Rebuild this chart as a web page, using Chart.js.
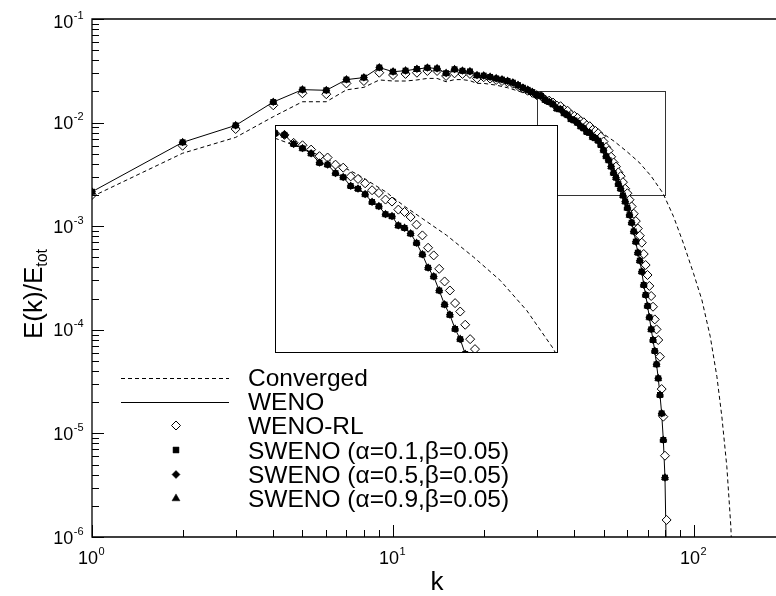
<!DOCTYPE html>
<html>
<head>
<meta charset="utf-8">
<script src="https://cdn.jsdelivr.net/npm/chart.js@4.4.0/dist/chart.umd.min.js"></script>
<style>
html, body { margin: 0; padding: 0; background: #fff; }
#wrap { position: relative; width: 776px; height: 596px; }
#mainChart { display: block; }
#inset { position: absolute; left: 275px; top: 125px; width: 283px; height: 228px; background: #fff; }
#insetChart { display: block; }
</style>
</head>
<body>
<div id="wrap">
	<canvas id="mainChart" width="776" height="596"></canvas>
	<div id="inset"><canvas id="insetChart" width="283" height="228"></canvas></div>
</div>
<script>
// wavenumbers of the simulated spectra
const kValues = [1, 2, 3, 4, 5, 6, 7, 8, 9, 10, 11, 12, 13, 14, 15, 16, 17, 18, 19, 20,
	21, 22, 23, 24, 25, 26, 27, 28, 29, 30, 31, 32, 33, 34, 35, 36, 37, 38, 39, 40,
	41, 42, 43, 44, 45, 46, 47, 48, 49, 50, 51, 52, 53, 54, 55, 56, 57, 58, 59, 60,
	61, 62, 63, 64, 65, 66, 67, 68, 69, 70, 71, 72, 73, 74, 75, 76, 77, 78, 79, 80, 81];

// WENO (the SWENO runs lie on top of it)
const wenoE = [2.15e-3, 6.45e-3, 9.4e-3, 1.58e-2, 2.08e-2, 2.05e-2, 2.6e-2, 2.72e-2, 3.4e-2, 3.1e-2,
	3.17e-2, 3.29e-2, 3.38e-2, 3.33e-2, 3.0e-2, 3.27e-2, 3.16e-2, 3.12e-2, 2.86e-2, 2.84e-2,
	2.76e-2, 2.67e-2, 2.6e-2, 2.52e-2, 2.43e-2, 2.3e-2, 2.17e-2, 2.07e-2, 1.97e-2, 1.84e-2,
	1.81e-2, 1.65e-2, 1.58e-2, 1.50e-2, 1.365e-2, 1.34e-2, 1.23e-2, 1.18e-2, 1.08e-2, 1.05e-2,
	9.94e-3, 9.19e-3, 8.80e-3, 8.12e-3, 7.96e-3, 7.24e-3, 7.07e-3, 6.68e-3, 6.07e-3, 5.41e-3,
	4.73e-3, 4.33e-3, 3.76e-3, 3.26e-3, 2.94e-3, 2.55e-3, 2.30e-3, 1.98e-3, 1.73e-3, 1.50e-3,
	1.28e-3, 1.08e-3, 8.9e-4, 7.09e-4, 5.55e-4, 4.65e-4, 3.64e-4, 2.71e-4, 2.17e-4, 1.70e-4,
	1.32e-4, 1.01e-4, 7.97e-5, 6.24e-5, 4.64e-5, 3.40e-5, 2.35e-5, 1.56e-5, 8.64e-6, 3.74e-6, 5e-7];

const wenoRlE = [2.0e-3, 5.98e-3, 8.67e-3, 1.47e-2, 1.92e-2, 1.88e-2, 2.39e-2, 2.52e-2, 3.03e-2, 2.88e-2,
	2.95e-2, 3.03e-2, 3.15e-2, 3.15e-2, 2.82e-2, 2.99e-2, 2.95e-2, 2.95e-2, 2.67e-2, 2.74e-2,
	2.66e-2, 2.58e-2, 2.52e-2, 2.45e-2, 2.37e-2, 2.25e-2, 2.13e-2, 2.03e-2, 1.94e-2, 1.84e-2,
	1.81e-2, 1.67e-2, 1.63e-2, 1.56e-2, 1.46e-2, 1.44e-2, 1.34e-2, 1.30e-2, 1.19e-2, 1.16e-2,
	1.11e-2, 1.035e-2, 1.007e-2, 9.42e-3, 9.23e-3, 8.51e-3, 8.31e-3, 7.90e-3, 7.31e-3, 6.56e-3,
	5.79e-3, 5.36e-3, 4.68e-3, 4.12e-3, 3.76e-3, 3.31e-3, 3.04e-3, 2.66e-3, 2.30e-3, 2.08e-3,
	1.80e-3, 1.55e-3, 1.32e-3, 1.12e-3, 9.5e-4, 8.1e-4, 6.93e-4, 5.39e-4, 4.22e-4, 3.38e-4,
	2.65e-4, 2.12e-4, 1.67e-4, 1.26e-4, 1.01e-4, 7.97e-5, 5.50e-5, 2.68e-5, 1.45e-5, 6.09e-6, 1.46e-6];

// the three SWENO runs cannot be told apart from WENO in the picture
const swenoA01E = wenoE;
const swenoA05E = wenoE;
const swenoA09E = wenoE;

// converged reference spectrum
const convK = [1, 2, 3, 4, 5, 6, 7, 8, 9, 10, 11, 12, 13, 14, 15, 16, 17, 18, 19, 20,
	22, 24, 26, 28, 30, 33, 36, 40, 44, 47, 49.6, 54.4, 59.7, 65.5, 71.8, 78.8, 85.4,
	92.1, 99.5, 106.1, 113.1, 119, 123.6, 128.4, 132.4, 134];
const convE = [1.93e-3, 5.06e-3, 7.2e-3, 1.14e-2, 1.59e-2, 1.59e-2, 2.07e-2, 2.19e-2, 2.58e-2, 2.52e-2,
	2.52e-2, 2.58e-2, 2.67e-2, 2.67e-2, 2.48e-2, 2.6e-2, 2.6e-2, 2.54e-2, 2.39e-2, 2.39e-2,
	2.3e-2, 2.17e-2, 2.02e-2, 1.88e-2, 1.75e-2, 1.58e-2, 1.42e-2, 1.21e-2, 1.02e-2, 8.8e-3,
	7.9e-3, 6.56e-3, 5.27e-3, 4.16e-3, 3.07e-3, 2.08e-3, 1.24e-3, 6.84e-4, 3.51e-4, 1.94e-4,
	8.6e-5, 3.53e-5, 1.45e-5, 4.77e-6, 1.26e-6, 5e-7];

const xTickDecades = [1, 10, 100];
const xTickLabels = ['0', '1', '2'];
const yTickDecades = [1e-6, 1e-5, 1e-4, 1e-3, 1e-2, 1e-1];
const yTickLabels = ['-6', '-5', '-4', '-3', '-2', '-1'];

// zoom window shown in the inset
const zoomK = [30, 80];
const zoomE = [2e-3, 2e-2];

const FONT = '"Liberation Sans", Arial, Helvetica, sans-serif';

function pts(xs, ys) {
	return xs.map((x, i) => ({ x: x, y: ys[i] }));
}

const legendItems = [
	{ label: 'Converged', line: true, dash: [4, 3] },
	{ label: 'WENO', line: true, dash: [] },
	{ label: 'WENO-RL', style: 'rectRot', radius: 4.5, fill: '#fff' },
	{ label: 'SWENO (\u03b1=0.1,\u03b2=0.05)', style: 'rect', radius: 4.2, fill: '#000' },
	{ label: 'SWENO (\u03b1=0.5,\u03b2=0.05)', style: 'rectRot', radius: 4, fill: '#000' },
	{ label: 'SWENO (\u03b1=0.9,\u03b2=0.05)', style: 'triangle', radius: 4.6, fill: '#000' }
];

function makeDatasets() {
	return [
		{ label: 'SWENO a=0.1', data: pts(kValues, swenoA01E), showLine: false, pointStyle: 'rect', pointRadius: 4.2,
			backgroundColor: '#000', borderColor: '#000', pointBorderWidth: 0, order: 1 },
		{ label: 'SWENO a=0.5', data: pts(kValues, swenoA05E), showLine: false, pointStyle: 'rectRot', pointRadius: 4,
			backgroundColor: '#000', borderColor: '#000', pointBorderWidth: 0, order: 2 },
		{ label: 'SWENO a=0.9', data: pts(kValues, swenoA09E), showLine: false, pointStyle: 'triangle', pointRadius: 4.6,
			backgroundColor: '#000', borderColor: '#000', pointBorderWidth: 0, order: 3 },
		{ label: 'WENO-RL', data: pts(kValues, wenoRlE), showLine: false, pointStyle: 'rectRot', pointRadius: 4.5,
			backgroundColor: '#fff', borderColor: '#000', pointBorderWidth: 1, order: 4 },
		{ label: 'WENO', data: pts(kValues, wenoE), showLine: true, pointRadius: 0,
			borderColor: '#000', borderWidth: 1, order: 5 },
		{ label: 'Converged', data: pts(convK, convE), showLine: true, pointRadius: 0,
			borderColor: '#000', borderWidth: 1, borderDash: [4, 3], order: 6 }
	];
}

function drawMarker(ctx, style, radius, x, y) {
	if (Chart.helpers && Chart.helpers.drawPoint) {
		Chart.helpers.drawPoint(ctx, { pointStyle: style, radius: radius, rotation: 0, borderWidth: 1 }, x, y);
		return;
	}
	ctx.beginPath();
	if (style === 'rect') {
		const s = radius * Math.SQRT1_2;
		ctx.rect(x - s, y - s, 2 * s, 2 * s);
	} else if (style === 'triangle') {
		ctx.moveTo(x, y - radius);
		ctx.lineTo(x + radius * 0.866, y + radius / 2);
		ctx.lineTo(x - radius * 0.866, y + radius / 2);
		ctx.closePath();
	} else {
		ctx.moveTo(x, y - radius); ctx.lineTo(x + radius, y);
		ctx.lineTo(x, y + radius); ctx.lineTo(x - radius, y);
		ctx.closePath();
	}
	ctx.fill();
	ctx.stroke();
}

// "10" with a raised exponent; y is the middle of the "10"
function drawPower(ctx, exp, x, y, align) {
	ctx.font = '18px ' + FONT;
	const bw = ctx.measureText('10').width;
	ctx.font = '11px ' + FONT;
	const ew = ctx.measureText(exp).width;
	const left = align === 'right' ? x - bw - ew : x - (bw + ew) / 2;
	ctx.textAlign = 'left';
	ctx.textBaseline = 'alphabetic';
	ctx.font = '18px ' + FONT;
	ctx.fillText('10', left, y + 6.5);
	ctx.font = '11px ' + FONT;
	ctx.fillText(exp, left + bw + 0.5, y - 2.5);
}

const mainDecor = {
	id: 'mainDecor',
	beforeDatasetsDraw(chart) {
		const ctx = chart.ctx;
		const xs = chart.scales.x, ys = chart.scales.y;
		ctx.save();
		ctx.strokeStyle = '#333';
		ctx.lineWidth = 1;
		const x0 = Math.round(xs.getPixelForValue(zoomK[0])) + 0.5;
		const x1 = Math.round(xs.getPixelForValue(zoomK[1])) + 0.5;
		const y0 = Math.round(ys.getPixelForValue(zoomE[1])) + 0.5;
		const y1 = Math.round(ys.getPixelForValue(zoomE[0])) + 0.5;
		ctx.strokeRect(x0, y0, x1 - x0, y1 - y0);
		ctx.restore();
	},
	afterDraw(chart) {
		const ctx = chart.ctx;
		const area = chart.chartArea;
		const xs = chart.scales.x, ys = chart.scales.y;
		ctx.save();
		ctx.strokeStyle = '#000';
		ctx.fillStyle = '#000';
		ctx.lineWidth = 1.3;
		// frame: left, bottom, top
		ctx.beginPath();
		ctx.moveTo(area.right, area.top); ctx.lineTo(area.left, area.top);
		ctx.lineTo(area.left, area.bottom); ctx.lineTo(area.right, area.bottom);
		ctx.stroke();

		// inward ticks
		ctx.lineWidth = 1;
		ctx.beginPath();
		for (let d = 1; d < 1000; d *= 10) {
			for (let m = 1; m < 10; m++) {
				const v = d * m;
				if (v < xs.min || v > xs.max) continue;
				const px = Math.round(xs.getPixelForValue(v)) + 0.5;
				const len = m === 1 ? 12 : 7;
				ctx.moveTo(px, area.bottom); ctx.lineTo(px, area.bottom - len);
			}
		}
		for (let d = 1e-6; d < 0.5; d *= 10) {
			for (let m = 1; m < 10; m++) {
				const v = d * m;
				if (v < ys.min * 0.999 || v > ys.max * 1.001) continue;
				const py = Math.round(ys.getPixelForValue(v)) + 0.5;
				const len = m === 1 ? 12 : 7;
				ctx.moveTo(area.left, py); ctx.lineTo(area.left + len, py);
			}
		}
		ctx.stroke();

		// tick labels
		xTickDecades.forEach((v, i) => {
			drawPower(ctx, xTickLabels[i], xs.getPixelForValue(v) - 1, 557, 'center');
		});
		yTickDecades.forEach((v, i) => {
			drawPower(ctx, yTickLabels[i], area.left - 9, ys.getPixelForValue(v) + (i === yTickDecades.length - 1 ? 2 : 0), 'right');
		});

		// axis titles
		ctx.font = '26px ' + FONT;
		ctx.textAlign = 'center';
		ctx.textBaseline = 'alphabetic';
		ctx.fillText('k', 437, 590);

		ctx.save();
		ctx.translate(42, 294);
		ctx.rotate(-Math.PI / 2);
		ctx.font = '26px ' + FONT;
		const mainW = ctx.measureText('E(k)/E').width;
		ctx.font = '16px ' + FONT;
		const subW = ctx.measureText('tot').width;
		const start = -(mainW + subW) / 2;
		ctx.textAlign = 'left';
		ctx.font = '26px ' + FONT;
		ctx.fillText('E(k)/E', start, 0);
		ctx.font = '16px ' + FONT;
		ctx.fillText('tot', start + mainW, 5);
		ctx.restore();

		// legend
		const rowY = [377.5, 401.5, 425.5, 450, 474.5, 498.5];
		legendItems.forEach((it, i) => {
			const y = rowY[i];
			if (it.line) {
				ctx.save();
				ctx.lineWidth = 1;
				ctx.setLineDash(it.dash);
				ctx.beginPath();
				ctx.moveTo(121, Math.round(y) + 0.5);
				ctx.lineTo(229, Math.round(y) + 0.5);
				ctx.stroke();
				ctx.restore();
			} else {
				ctx.save();
				ctx.fillStyle = it.fill;
				ctx.strokeStyle = '#000';
				ctx.lineWidth = it.fill === '#fff' ? 1 : 0.5;
				drawMarker(ctx, it.style, it.radius, 176, y);
				ctx.restore();
			}
			ctx.font = '24.5px ' + FONT;
			ctx.textAlign = 'left';
			ctx.textBaseline = 'alphabetic';
			ctx.fillStyle = '#000';
			ctx.fillText(it.label, 248, y + 8.6);
		});
		ctx.restore();
	}
};

const insetFrame = {
	id: 'insetFrame',
	afterDraw(chart) {
		const ctx = chart.ctx;
		const a = chart.chartArea;
		ctx.save();
		ctx.strokeStyle = '#000';
		ctx.lineWidth = 1;
		ctx.strokeRect(a.left + 0.5, a.top + 0.5, a.right - a.left - 1, a.bottom - a.top - 1);
		ctx.restore();
	}
};

function baseOptions(xMin, xMax, yMin, yMax, padding) {
	return {
		responsive: false,
		animation: false,
		events: [],
		layout: { padding: padding, autoPadding: false },
		plugins: { legend: { display: false }, tooltip: { enabled: false } },
		scales: {
			x: { type: 'logarithmic', min: xMin, max: xMax, display: false },
			y: { type: 'logarithmic', min: yMin, max: yMax, display: false }
		}
	};
}

new Chart(document.getElementById('mainChart'), {
	type: 'scatter',
	data: { datasets: makeDatasets() },
	options: baseOptions(1, 187, 1e-6, 0.1, { left: 92, top: 19, right: 0, bottom: 59 }),
	plugins: [mainDecor]
});

new Chart(document.getElementById('insetChart'), {
	type: 'scatter',
	data: { datasets: makeDatasets() },
	options: baseOptions(zoomK[0], zoomK[1], zoomE[0], zoomE[1], 0),
	plugins: [insetFrame]
});
</script>
</body>
</html>
